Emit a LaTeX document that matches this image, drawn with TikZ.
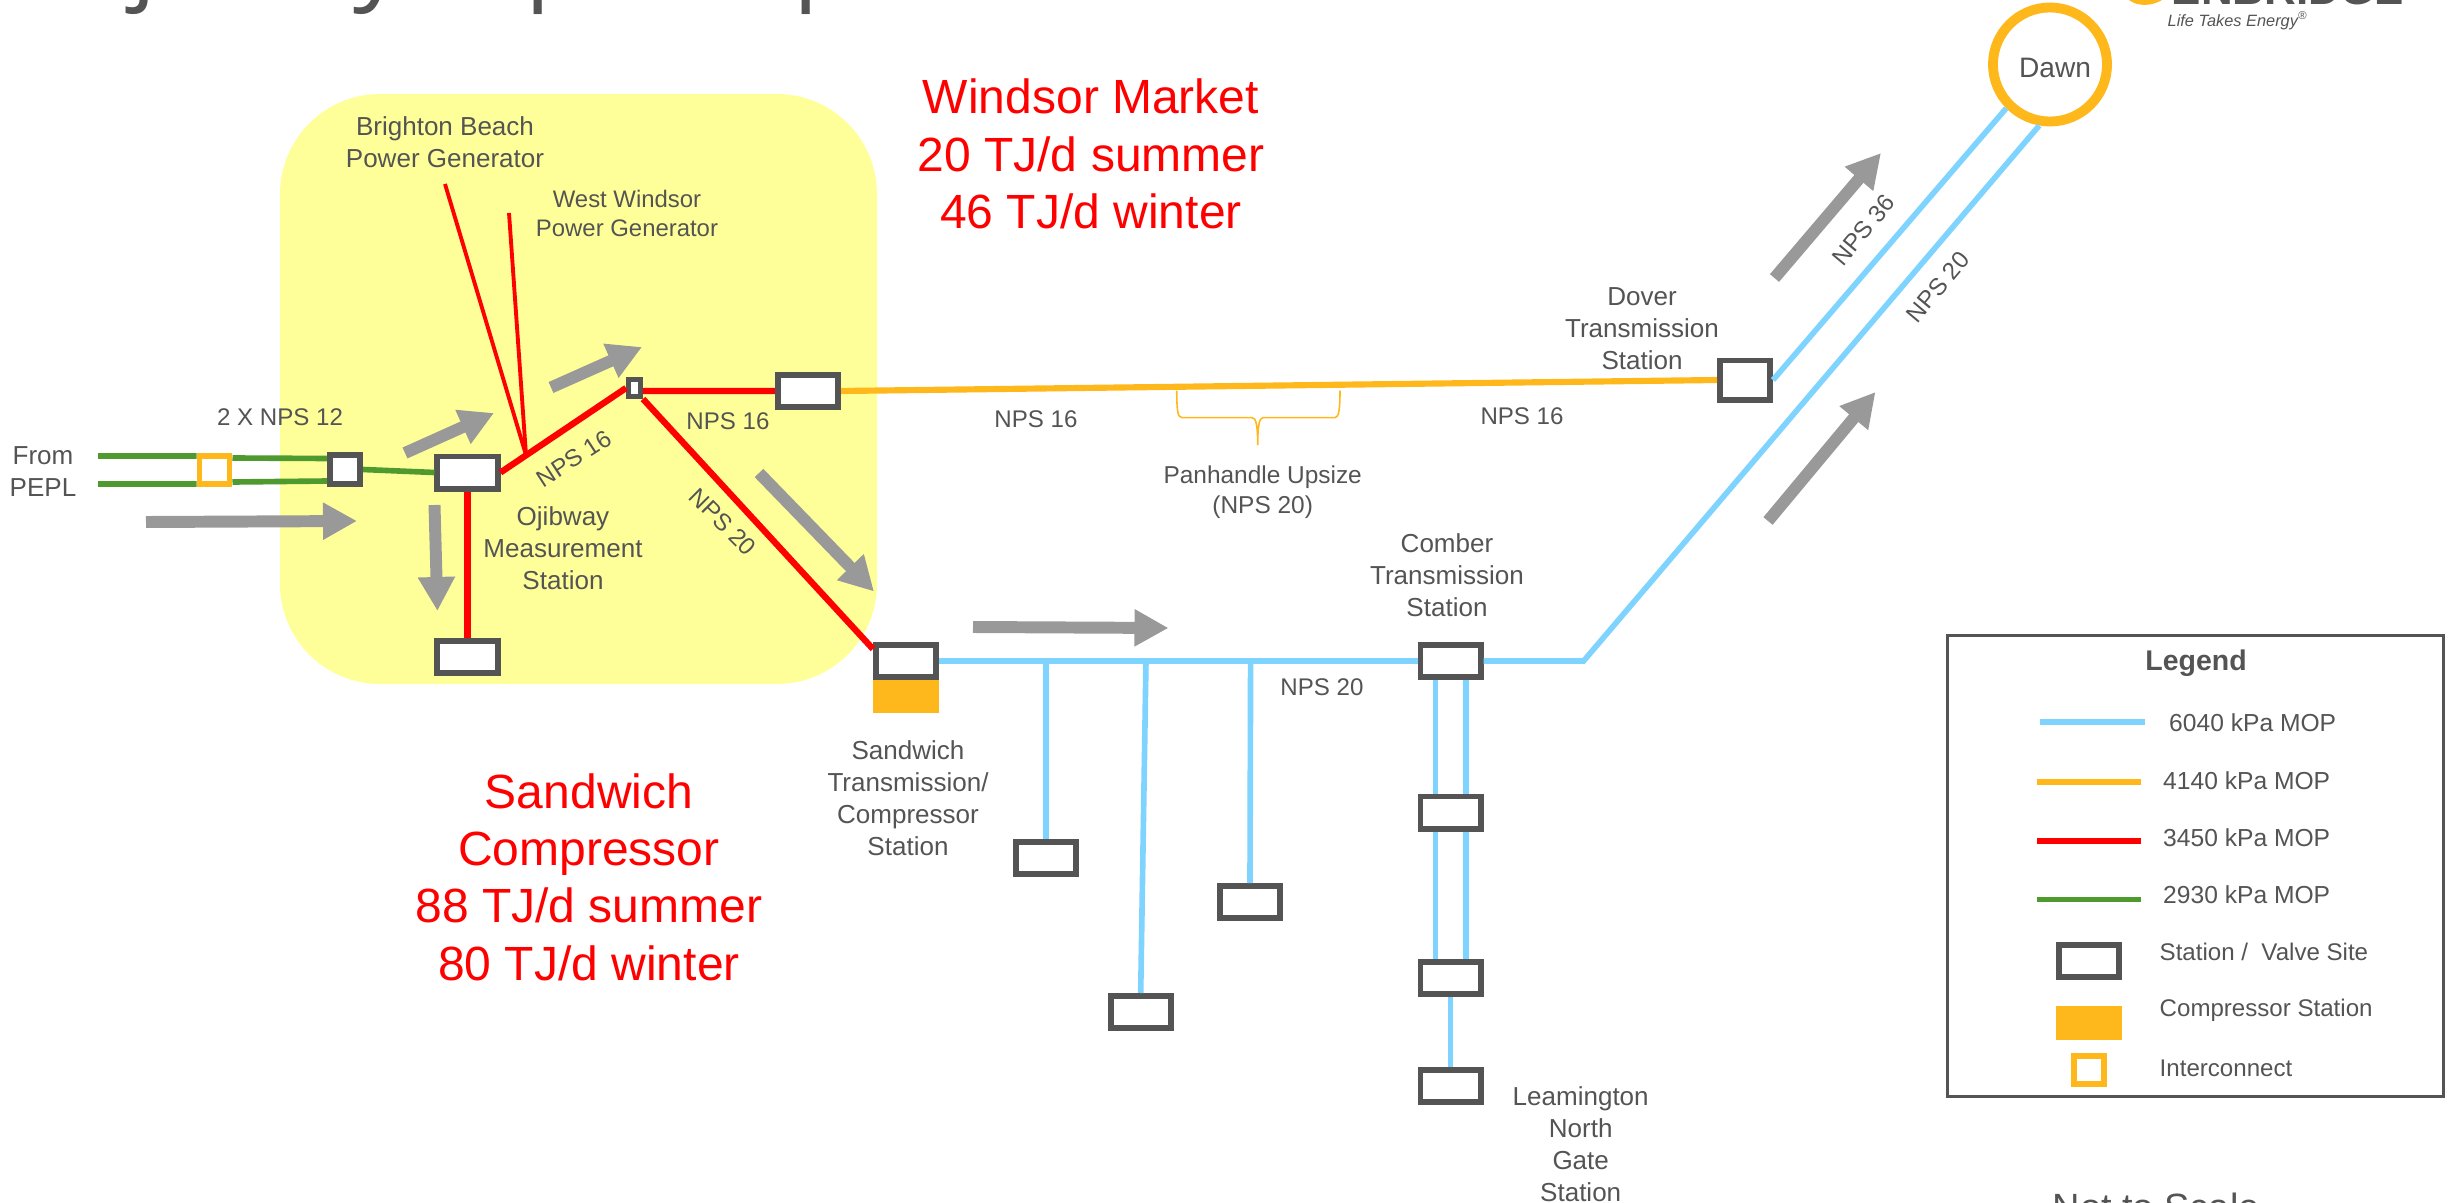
\documentclass[tikz,border=0pt]{standalone}
\usepackage{fontspec}
\setmainfont{Liberation Sans}
\newfontfamily\titlefont{Open Sans}
\usetikzlibrary{arrows.meta}
\definecolor{mopblue}{HTML}{7FD3FF}
\definecolor{moporange}{HTML}{FFB81C}
\definecolor{mopred}{HTML}{FF0000}
\definecolor{mopgreen}{HTML}{4F9A2F}
\definecolor{areayellow}{HTML}{FFFF99}
\definecolor{boxgray}{HTML}{545454}
\definecolor{flowgray}{HTML}{999999}
\tikzset{
  pipeblue/.style={draw=mopblue,line width=1.6pt},
  pipeorange/.style={draw=moporange,line width=1.75pt},
  pipered/.style={draw=mopred,line width=1.8pt},
  pipegreen/.style={draw=mopgreen,line width=1.6pt},
  feeder/.style={draw=mopred,line width=1.1pt},
  flow/.style={draw=flowgray,line width=3.4pt,-{Triangle[length=.34cm,width=.35cm]}},
  station/.style={rectangle,draw=boxgray,fill=white,line width=1.7pt,inner sep=0pt,minimum width=.6cm,minimum height=.32cm},
  interconnect/.style={rectangle,draw=moporange,fill=white,line width=1.7pt,inner sep=0pt,minimum width=.3cm,minimum height=.28cm},
  compressor/.style={rectangle,fill=moporange,inner sep=0pt,minimum width=.665cm,minimum height=.33cm},
  stationtext/.style={text=boxgray,inner sep=0pt,align=center,font=\fontsize{7.4}{9.1}\selectfont},
  npstext/.style={text=boxgray,inner sep=0pt,font=\fontsize{6.85}{8.5}\selectfont},
  legendtext/.style={text=boxgray,inner sep=0pt,anchor=west,font=\fontsize{7}{8.5}\selectfont},
  markettext/.style={text=mopred,inner sep=0pt,align=center,font=\fontsize{13.65}{16.3}\selectfont},
  titletext/.style={text=boxgray,inner sep=0pt,anchor=base west,font=\titlefont\fontsize{28.5}{34}\selectfont}
}
\begin{document}
\begin{tikzpicture}[x=0.01cm,y=-0.01cm,line join=miter]
  \useasboundingbox (0,0) rectangle (2453,1203);

  % yellow area
  \fill[areayellow,rounded corners=1cm] (280,94) rectangle (877,684);

  % title and logo, cut by the page edge
  \node[titletext] (titlej) at (131,-9) {j};
  \node[titletext] (titley) at (353,-9) {y};
  \node[titletext] (titlep) at (525,-9) {p};
  \node[titletext] (titleq) at (793,-9) {p};
  \fill[moporange] (2129,0) .. controls (2138,7) and (2152,6) .. (2162,0) -- cycle;
  \node[text=boxgray,inner sep=0pt,anchor=base west,font=\bfseries\fontsize{12.5}{15}\selectfont] (logo) at (2171,4.5) {ENBRIDGE};
  \node[text=boxgray,inner sep=0pt,anchor=base west,font=\itshape\fontsize{4.65}{6}\selectfont] (slogan) at (2167,26.7) {Life Takes Energy\textsuperscript{®}};

  % stations
  \node[interconnect] (ic) at (214.5,470) {};
  \node[station,minimum width=.3cm,minimum height=.29cm] (valve) at (345,469.5) {};
  \node[station] (ojibway) at (467.5,472.5) {};
  \node[station] (ojibwaysouth) at (467.5,657) {};
  \node[station,minimum width=.12cm,minimum height=.17cm,line width=1.4pt] (jct) at (634.5,388) {};
  \node[station] (upsize) at (808,391) {};
  \node[compressor] (sandcomp) at (906,696) {};
  \node[station] (sandwich) at (906,661) {};
  \node[station] (lat1) at (1046,858) {};
  \node[station] (lat2) at (1140.7,1012) {};
  \node[station] (lat3) at (1250,902) {};
  \node[station] (comber) at (1450.5,661) {};
  \node[station] (comberb) at (1450.5,812.5) {};
  \node[station] (comberc) at (1450.5,978) {};
  \node[station] (leamington) at (1450.5,1086) {};
  \node[station,minimum width=.5cm,minimum height=.39cm] (dover) at (1745,380) {};
  \node[circle,draw=moporange,fill=white,line width=2.8pt,inner sep=0pt,minimum size=1.14cm] (dawn) at (2050,64.5) {};

  % free ends
  \coordinate (pepla) at (98,456);
  \coordinate (peplb) at (98,484);
  \coordinate (brighton) at (445,184);
  \coordinate (westwindsor) at (509,213);
  \coordinate (tee) at (526,455);
  \coordinate (bend) at (1583.6,661);
  \coordinate (lat2top) at (1146,661);

  % green pipes
  \draw[pipegreen] (pepla) -- ([yshift=.14cm]ic.west);
  \draw[pipegreen] (peplb) -- ([yshift=-.14cm]ic.west);
  \draw[pipegreen] ([yshift=.12cm]ic.east) -- ([yshift=.11cm]valve.west);
  \draw[pipegreen] ([yshift=-.12cm]ic.east) -- ([yshift=-.115cm]valve.west);
  \draw[pipegreen] (valve.east) -- (ojibway.west);

  % red pipes
  \draw[pipered] (ojibway.south) -- (ojibwaysouth.north);
  \draw[pipered] (ojibway.east) -- (jct.west);
  \draw[pipered] ([yshift=-.03cm]jct.east) -- (upsize.west);
  \draw[pipered] (jct.south east) -- ([yshift=-.07cm]sandwich.north west);
  \draw[feeder] (brighton) -- (tee);
  \draw[feeder] (westwindsor) -- (tee);

  % orange pipe and brace
  \draw[pipeorange] (upsize.east) -- (dover.west);
  \draw[draw=moporange,line width=.45pt] (1176.7,390.7) .. controls (1177,408) and (1177,417.7) .. (1182,417.7) -- (1252,417.7) .. controls (1256,417.7) and (1257.7,425) .. (1257.7,445) .. controls (1257.7,425) and (1259.5,417.7) .. (1263,417.7) -- (1335,417.7) .. controls (1339,417.7) and (1340,408) .. (1340,390.7);

  % blue pipes
  \draw[pipeblue] (sandwich.east) -- (comber.west);
  \draw[pipeblue] (comber.east) -- (bend) -- (dawn.260);
  \draw[pipeblue] (dover.east) -- (dawn.225);
  \draw[pipeblue] (1046,661) -- (lat1.north);
  \draw[pipeblue] (lat2top) -- (lat2.north);
  \draw[pipeblue] (1250.6,661) -- (lat3.north);
  \foreach \s in {-.15,.155} {
    \draw[pipeblue] ([xshift=\s cm]comber.south) -- ([xshift=\s cm]comberb.north);
    \draw[pipeblue] ([xshift=\s cm]comberb.south) -- ([xshift=\s cm]comberc.north);
  }
  \draw[pipeblue] (comberc.south) -- (leamington.north);

  % flow arrows
  \coordinate (taila) at (146,522);   \coordinate (tipa) at (357,521);
  \coordinate (tailb) at (405,453);   \coordinate (tipb) at (494,413);
  \coordinate (tailc) at (551,387.5); \coordinate (tipc) at (642,347);
  \coordinate (taild) at (434.5,505); \coordinate (tipd) at (437.4,611);
  \coordinate (taile) at (759,473);   \coordinate (tipe) at (874,591.5);
  \coordinate (tailf) at (973,627);   \coordinate (tipf) at (1168.5,628);
  \coordinate (tailg) at (1774.5,278); \coordinate (tipg) at (1881,153);
  \coordinate (tailh) at (1768,521);  \coordinate (tiph) at (1875.5,392);
  \foreach \n in {a,b,c,d,e,f,g,h}
    \draw[flow] (tail\n) -- (tip\n);

  % station labels
  \node[stationtext] (fromlabel) at (43,472) {From\\PEPL};
  \node[stationtext,font=\fontsize{7.4}{9.1}\selectfont] (brightonlabel) at (445,142) {Brighton Beach\\Power Generator};
  \node[stationtext,font=\fontsize{6.8}{8.4}\selectfont] (westlabel) at (627,213.5) {West Windsor\\Power Generator};
  \node[stationtext] (ojibwaylabel) at (563,548) {Ojibway\\Measurement\\Station};
  \node[stationtext] (sandwichlabel) at (908,798) {Sandwich\\Transmission/\\Compressor\\Station};
  \node[stationtext] (comberlabel) at (1447,575) {Comber\\Transmission\\Station};
  \node[stationtext] (doverlabel) at (1642,329) {Dover\\Transmission\\Station};
  \node[stationtext] (leamingtonlabel) at (1580.7,1144) {Leamington\\North\\Gate\\Station};
  \node[stationtext,font=\fontsize{6.95}{8.5}\selectfont] (panhandlelabel) at (1262.7,492) {Panhandle Upsize\\(NPS 20)};
  \node[stationtext,font=\fontsize{8}{9.6}\selectfont] (dawnlabel) at (2055,68) {Dawn};

  % pipe size labels
  \node[npstext] (npsa) at (280,417) {2 X NPS 12};
  \node[npstext,rotate=33] (npsb) at (574,458.5) {NPS 16};
  \node[npstext] (npsc) at (728,421) {NPS 16};
  \node[npstext,rotate=-45] (npsd) at (723,522) {NPS 20};
  \node[npstext] (npse) at (1036,419) {NPS 16};
  \node[npstext] (npsf) at (1522,416) {NPS 16};
  \node[npstext] (npsg) at (1322,687) {NPS 20};
  \node[npstext,rotate=50] (npsh) at (1863.5,230) {NPS 36};
  \node[npstext,rotate=50] (npsi) at (1938,287) {NPS 20};

  % market text
  \node[markettext] (windsor) at (1091,154) {Windsor Market\\20 TJ/d summer\\46 TJ/d winter};
  \node[markettext] (sandwichmarket) at (589,877) {Sandwich\\Compressor\\88 TJ/d summer\\80 TJ/d winter};

  % legend
  \draw[draw=boxgray,line width=.85pt] (1947.6,635.6) rectangle (2443.7,1096.6);
  \node[text=boxgray,inner sep=0pt,font=\bfseries\fontsize{8.1}{9}\selectfont] (legendtitle) at (2196,663.5) {Legend};
  \draw[pipeblue,line width=1.7pt] (2040,722) -- (2145,722);
  \draw[pipeorange,line width=1.7pt] (2036.8,782) -- (2141,782);
  \draw[pipered] (2036.8,841) -- (2141,841);
  \draw[pipegreen,line width=1.7pt] (2036.8,899.5) -- (2141,899.5);
  \node[station] (legendstation) at (2089,961) {};
  \node[compressor] (legendcomp) at (2089,1023) {};
  \node[interconnect] (legendic) at (2089,1070) {};
  \node[legendtext] (legenda) at (2168.5,722.6) {6040 kPa MOP};
  \node[legendtext] (legendb) at (2162.5,780.6) {4140 kPa MOP};
  \node[legendtext] (legendc) at (2162.5,837.5) {3450 kPa MOP};
  \node[legendtext] (legendd) at (2162.5,895) {2930 kPa MOP};
  \node[legendtext,font=\fontsize{6.85}{8.5}\selectfont] (legende) at (2159,952) {Station /\ \ Valve Site};
  \node[legendtext,font=\fontsize{6.85}{8.5}\selectfont] (legendf) at (2159,1010) {Compressor Station};
  \node[legendtext,font=\fontsize{6.85}{8.5}\selectfont] (legendg) at (2159,1068.7) {Interconnect};

  % scale note, cut by the page edge
  \node[text=boxgray,inner sep=0pt,anchor=base west,font=\fontsize{10.8}{13}\selectfont] (scalenote) at (2052,1220) {Not to Scale};
\end{tikzpicture}
\end{document}
